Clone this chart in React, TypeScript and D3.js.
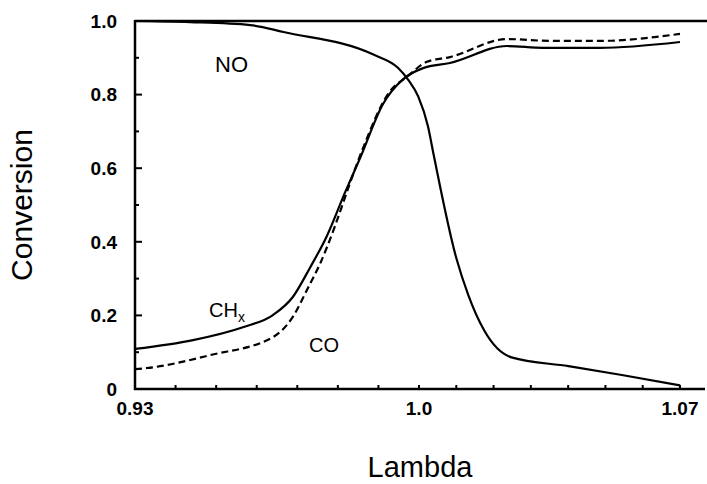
import React from "react";
import { scaleLinear, line, curveMonotoneX, range } from "d3";

// lambda values and conversion
const noLambda = [0.93, 0.9436, 0.9584, 0.9666, 0.9889, 0.9948, 0.9973, 0.9998, 1.0024, 1.004, 1.01, 1.0132, 1.0175, 1.0248, 1.0401, 1.0544, 1.07];
const noConv = [1.0, 0.997, 0.989, 0.97, 0.908, 0.873, 0.841, 0.795, 0.714, 0.633, 0.356, 0.256, 0.159, 0.086, 0.062, 0.038, 0.01];

const chLambda = [0.93, 0.9443, 0.9566, 0.964, 0.9689, 0.9731, 0.9773, 0.9818, 0.9855, 0.9911, 0.9961, 1.0011, 1.0083, 1.0236, 1.0333, 1.0485, 1.07];
const chConv = [0.109, 0.133, 0.168, 0.201, 0.25, 0.329, 0.416, 0.535, 0.628, 0.774, 0.842, 0.872, 0.886, 0.932, 0.927, 0.927, 0.943];

const coLambda = [0.93, 0.933, 0.9485, 0.964, 0.9689, 0.9726, 0.9756, 0.9793, 0.983, 0.986, 0.9929, 0.997, 1.0021, 1.0083, 1.0236, 1.0351, 1.0485, 1.07];
const coConv = [0.054, 0.057, 0.092, 0.141, 0.196, 0.274, 0.34, 0.443, 0.56, 0.649, 0.81, 0.848, 0.889, 0.902, 0.951, 0.946, 0.946, 0.965];

const yTickLabels = ["0", "0.2", "0.4", "0.6", "0.8", "1.0"];
const xTickValues = [0.93, 1.0, 1.07];
const xTickLabels = ["0.93", "1.0", "1.07"];

const W = 707;
const H = 484;
const font = "'Liberation Sans', Arial, sans-serif";

const App = () => {
  const x = scaleLinear().domain([0.93, 1.0, 1.07]).range([135, 419, 680]);
  const y = scaleLinear().domain([0, 1]).range([389, 21]);

  const mk = (xs: number[], ys: number[]) =>
    line<number>()
      .x((d) => x(d))
      .y((_, i) => y(ys[i]))
      .curve(curveMonotoneX)(xs) as string;

  const yMinor = range(0, 11).map((i) => i / 10);
  const xMinor = range(0, 15).map((i) => 0.93 + i * 0.01);

  return (
    <svg width={W} height={H} style={{ position: "absolute", left: 0, top: 0, background: "#fff" }}>
      {/* frame: top line, left axis, bottom axis */}
      <line x1={135} x2={W} y1={y(1)} y2={y(1)} stroke="#000" strokeWidth={2.5} />
      <line x1={135} x2={135} y1={y(1) - 1} y2={y(0) + 1} stroke="#000" strokeWidth={2.5} />
      <line x1={134} x2={705} y1={y(0)} y2={y(0)} stroke="#000" strokeWidth={2.5} />

      {yMinor.map((v, i) => (
        <line key={"yt" + i} x1={135} x2={135 + (i % 2 === 0 ? 7 : 4)} y1={y(v)} y2={y(v)} stroke="#000" strokeWidth={2} />
      ))}
      {xMinor.map((v, i) => (
        <line key={"xt" + i} x1={x(v)} x2={x(v)} y1={y(0)} y2={y(0) - 4} stroke="#000" strokeWidth={2} />
      ))}

      {yTickLabels.map((t, i) => (
        <text key={"yl" + i} x={117} y={y(i * 0.2)} dy="0.36em" textAnchor="end" fontFamily={font} fontWeight={700} fontSize={19}>
          {t}
        </text>
      ))}
      {xTickValues.map((v, i) => (
        <text key={"xl" + i} x={x(v)} y={415} textAnchor="middle" fontFamily={font} fontWeight={700} fontSize={19}>
          {xTickLabels[i]}
        </text>
      ))}

      <path d={mk(noLambda, noConv)} fill="none" stroke="#000" strokeWidth={2.2} />
      <path d={mk(chLambda, chConv)} fill="none" stroke="#000" strokeWidth={2.2} />
      <path d={mk(coLambda, coConv)} fill="none" stroke="#000" strokeWidth={2.2} strokeDasharray="7 4" />

      <text x={215} y={72} fontFamily={font} fontSize={22}>NO</text>
      <text x={209} y={317} fontFamily={font} fontSize={20}>
        CH<tspan fontSize={14} dy={5}>x</tspan>
      </text>
      <text x={309} y={352} fontFamily={font} fontSize={20}>CO</text>

      <text transform="translate(32,205) rotate(-90)" textAnchor="middle" fontFamily={font} fontSize={30}>
        Conversion
      </text>
      <text x={420} y={477} textAnchor="middle" fontFamily={font} fontSize={29}>
        Lambda
      </text>
    </svg>
  );
};

export default App;
